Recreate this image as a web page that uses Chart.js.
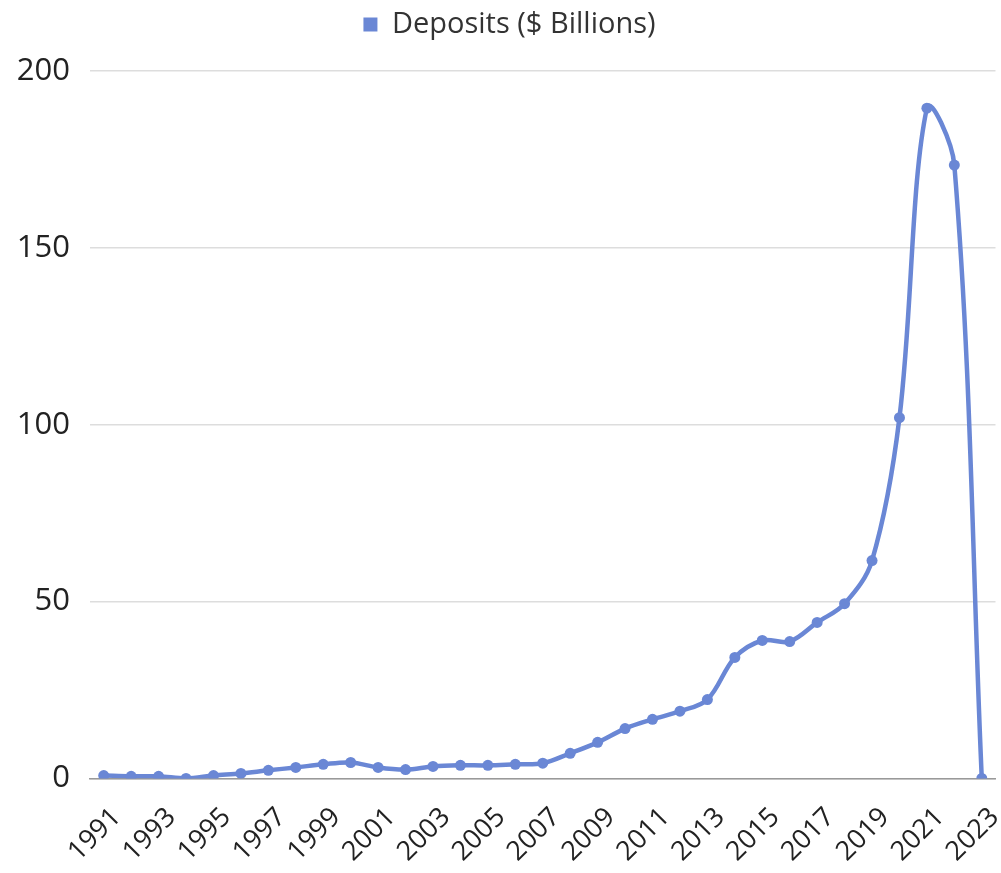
<!DOCTYPE html>
<html>
<head>
<meta charset="utf-8">
<script src="https://cdn.jsdelivr.net/npm/chart.js@4"></script>
<style>
  html, body { margin: 0; padding: 0; background: #fff; }
  #wrap { width: 1001px; height: 873px; position: relative; }
</style>
</head>
<body>
<div id="wrap"><canvas id="chart"></canvas></div>
<script>
// years on the x axis
const years = [];
for (let y = 1991; y <= 2023; y++) years.push(String(y));

// deposits, $ billions
const deposits = [
  0.8, 0.6, 0.6, 0.0, 0.8, 1.4, 2.3, 3.1, 4.0, 4.5,
  3.1, 2.5, 3.4, 3.7, 3.7, 4.0, 4.3, 7.1, 10.2, 14.1,
  16.7, 19.0, 22.3, 34.2, 39.0, 38.7, 44.1, 49.4, 61.6, 102.0,
  189.5, 173.4, 0.0
];

const seriesName = 'Deposits ($ Billions)';
const yTicks = [0, 50, 100, 150, 200];

const blue = '#6a87d5';
const font = '"Open Sans", "DejaVu Sans", sans-serif';

// extra room under the legend, so the plot starts lower like the original
const legendGap = {
  id: 'legendGap',
  beforeUpdate(chart) {
    const lg = chart.legend;
    if (!lg || lg._gapPatched) return;
    const fit = lg.fit;
    lg.fit = function () { fit.call(this); this.height += 22; };
    lg._gapPatched = true;
  }
};

new Chart(document.getElementById('chart').getContext('2d'), {
  type: 'line',
  data: {
    labels: years,
    datasets: [{
      label: seriesName,
      data: deposits,
      borderColor: blue,
      backgroundColor: blue,
      borderWidth: 4.5,
      pointRadius: 5.5,
      pointBackgroundColor: blue,
      pointBorderWidth: 0,
      tension: 0.35,
      fill: false
    }]
  },
  plugins: [legendGap],
  options: {
    responsive: true, maintainAspectRatio: false, animation: false,
    layout: { padding: { left: 18, right: 0, top: 0, bottom: 2 } },
    plugins: {
      legend: {
        position: 'top',
        labels: {
          color: '#333', font: { family: font, size: 29 },
          usePointStyle: true, pointStyle: 'rect', boxWidth: 14, boxHeight: 14, padding: 10
        }
      },
      tooltip: { enabled: false }
    },
    scales: {
      x: {
        offset: true,
        grid: { display: false },
        border: { display: true, color: '#999', width: 1.5 },
        // rotated labels may hang past the plot edges, as in the original
        afterFit: (s) => { s.paddingLeft = 0; s.paddingRight = 0; s.height -= 12; },
        ticks: {
          autoSkip: false, maxRotation: 45, minRotation: 45,
          labelOffset: 13, padding: 15,
          color: '#222', font: { family: font, size: 27 },
          callback: (v, i) => (i % 2 === 0 ? years[i] : '')
        }
      },
      y: {
        min: 0, max: 200,
        afterBuildTicks: (ax) => { ax.ticks = yTicks.map(v => ({ value: v })); },
        afterFit: (s) => { s.width = 72; },
        grid: { color: '#dddddd', lineWidth: 1.5, drawTicks: false },
        border: { display: false },
        ticks: { color: '#222', font: { family: font, size: 31 }, padding: 20 }
      }
    }
  }
});
</script>
</body>
</html>
